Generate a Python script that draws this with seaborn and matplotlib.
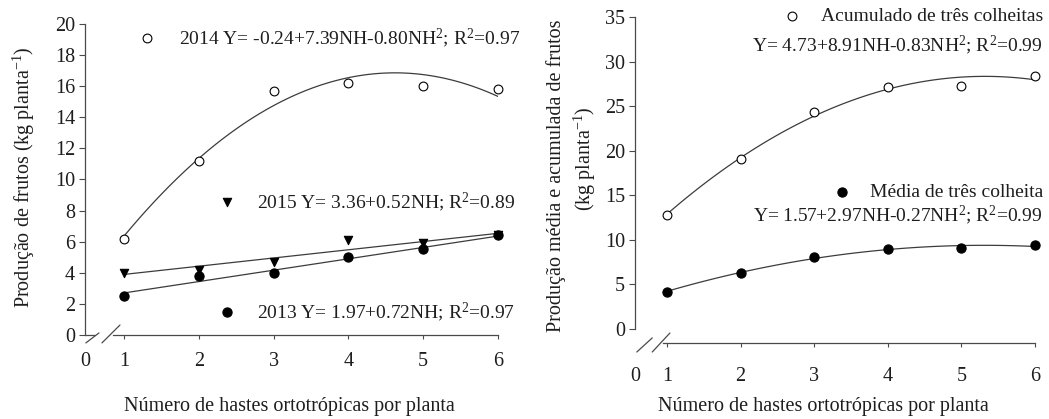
import matplotlib
matplotlib.use("Agg")
import matplotlib.pyplot as plt
import seaborn as sns

# Style: white background, serif text like the original figure
sns.set_theme(style="ticks")
plt.rcParams['font.family'] = ['Liberation Serif', 'DejaVu Serif']
plt.rcParams['mathtext.fontset'] = 'custom'
plt.rcParams['mathtext.rm'] = 'Liberation Serif'
plt.rcParams['mathtext.it'] = 'Liberation Serif:italic'

# --- data ---
nh = [1, 2, 3, 4, 5, 6]

prod_2014 = [6.2, 11.2, 15.7, 16.2, 16.0, 15.8]
prod_2015 = [4.0, 4.2, 4.7, 6.1, 5.9, 6.4]
prod_2013 = [2.5, 3.8, 4.0, 5.0, 5.5, 6.4]

acumulado = [12.8, 19.1, 24.3, 27.2, 27.3, 28.4]
media = [4.2, 6.3, 8.05, 9.0, 9.05, 9.4]

left_yticks = [0, 2, 4, 6, 8, 10, 12, 14, 16, 18, 20]
right_yticks = [0, 5, 10, 15, 20, 25, 30, 35]
xtick_labels = ['0', '1', '2', '3', '4', '5', '6']

eq_2014 = "2014 Y= -0.24+7.39NH-0.80NH$^2$; R$^2$=0.97"
eq_2015 = "2015 Y= 3.36+0.52NH; R$^2$=0.89"
eq_2013 = "2013 Y= 1.97+0.72NH; R$^2$=0.97"
lab_acum = "Acumulado de três colheitas"
eq_acum = "Y= 4.73+8.91NH-0.83NH$^2$; R$^2$=0.99"
lab_media = "Média de três colheita"
eq_media = "Y= 1.57+2.97NH-0.27NH$^2$; R$^2$=0.99"

xlabel = "Número de hastes ortotrópicas por planta"
ylabel_left = "Produção de frutos (kg planta$^{-1}$)"
ylabel_right_1 = "Produção média e acumulada de frutos"
ylabel_right_2 = "(kg planta$^{-1}$)"

LINE = '#3c3c3c'
AX = '#4a4a4a'
TXT = '#1e1e1e'
FS = 14.5
FS_EQ = 14

fig = plt.figure(figsize=(10.49, 4.19), dpi=100)
ax1 = fig.add_axes([0.0810, 0.2005, 0.3937, 0.7422])
ax2 = fig.add_axes([0.6053, 0.1814, 0.3813, 0.7780])


def style_axis(ax, x0, ylim, ybounds, xstart, yticks, xpad):
    ax.set_xlim(x0, 6)
    ax.set_ylim(*ylim)
    for s in ['top', 'right']:
        ax.spines[s].set_visible(False)
    for s in ['left', 'bottom']:
        ax.spines[s].set_color(AX)
        ax.spines[s].set_linewidth(0.9)
    ax.spines['left'].set_bounds(*ybounds)
    ax.spines['bottom'].set_bounds(xstart, 6)
    ax.set_yticks(yticks)
    ax.set_xticks([x0] + nh)
    ax.set_xticklabels(xtick_labels)
    ax.xaxis.get_major_ticks()[0].tick1line.set_visible(False)
    ax.tick_params(axis='y', length=4, width=0.8, color=AX, pad=3,
                   labelsize=FS, labelcolor=TXT)
    ax.tick_params(axis='x', length=3, width=0.8, color=AX, pad=xpad,
                   labelsize=FS, labelcolor=TXT)
    ax.grid(False)


def fit(ax, y, order):
    sns.regplot(x=nh, y=y, order=order, ci=None, scatter=False, ax=ax,
                line_kws=dict(color=LINE, lw=0.9))


def points(ax, y, marker, filled, size=40):
    sns.scatterplot(x=nh, y=y, ax=ax, marker=marker, s=size,
                    color='black' if filled else 'white',
                    edgecolor='black', linewidth=0.8, clip_on=False,
                    zorder=5, legend=False)


def key(ax, x, y, marker, filled, size=40):
    ax.scatter([x], [y], transform=ax.transAxes, marker=marker, s=size,
               c='black' if filled else 'white', edgecolors='black',
               linewidths=0.8, clip_on=False, zorder=6)


def note(ax, x, y, s, ha):
    ax.text(x, y, s, transform=ax.transAxes, fontsize=FS_EQ,
            va='center', ha=ha, color=TXT)


# ---------------- left panel ----------------
x0_left = 0.478
style_axis(ax1, x0_left, (0, 20), (0, 20), 0.85, left_yticks, 9)
fit(ax1, prod_2014, 2)
fit(ax1, prod_2015, 1)
fit(ax1, prod_2013, 1)
points(ax1, prod_2015, 'v', True, 36)
points(ax1, prod_2013, 'o', True, 44)
points(ax1, prod_2014, 'o', False, 40)

# axis break on the x axis
ax1.plot([x0_left, 0.61], [0, 0], color=AX, lw=0.9, clip_on=False)
ax1.plot([0.49, 0.665], [-0.51, 0.13], color=AX, lw=0.9, clip_on=False)
ax1.plot([0.705, 0.946], [-0.51, 0.64], color=AX, lw=0.9, clip_on=False)

key(ax1, 0.150, 0.955, 'o', False)
note(ax1, 0.228, 0.955, eq_2014, 'left')
key(ax1, 0.344, 0.428, 'v', True, 36)
note(ax1, 0.417, 0.428, eq_2015, 'left')
key(ax1, 0.344, 0.074, 'o', True, 44)
note(ax1, 0.417, 0.074, eq_2013, 'left')

ax1.set_xlabel(xlabel, fontsize=FS, color=TXT, va='top')
ax1.xaxis.set_label_coords(0.494, -0.2)
ax1.set_ylabel('')
ax1.text(-0.148, 0.508, ylabel_left, transform=ax1.transAxes, rotation=90,
         fontsize=FS, ha='center', va='center', color=TXT)

# ---------------- right panel ----------------
x0_right = 0.565
style_axis(ax2, x0_right, (-1.57, 35), (0, 35), 0.946, right_yticks, 14)
fit(ax2, acumulado, 2)
fit(ax2, media, 2)
points(ax2, media, 'o', True, 44)
points(ax2, acumulado, 'o', False, 40)

ax2.plot([0.59, 0.80], [-2.58, -1.0], color=AX, lw=0.9, clip_on=False)
ax2.plot([0.80, 1.04], [-2.58, -0.45], color=AX, lw=0.9, clip_on=False)

key(ax2, 0.3925, 1.003, 'o', False)
note(ax2, 1.02, 1.003, lab_acum, 'right')
note(ax2, 1.02, 0.914, eq_acum, 'right')
key(ax2, 0.5175, 0.463, 'o', True, 44)
note(ax2, 1.02, 0.463, lab_media, 'right')
note(ax2, 1.02, 0.393, eq_media, 'right')

ax2.set_xlabel(xlabel, fontsize=FS, color=TXT, va='top')
ax2.xaxis.set_label_coords(0.47, -0.165)
ax2.set_ylabel('')
ax2.text(-0.1975, 0.512, ylabel_right_1, transform=ax2.transAxes,
         rotation=90, fontsize=FS, ha='center', va='center', color=TXT)
ax2.text(-0.125, 0.565, ylabel_right_2, transform=ax2.transAxes,
         rotation=90, fontsize=FS, ha='center', va='center', color=TXT)

fig.savefig('out.png', dpi=100, facecolor='white')
